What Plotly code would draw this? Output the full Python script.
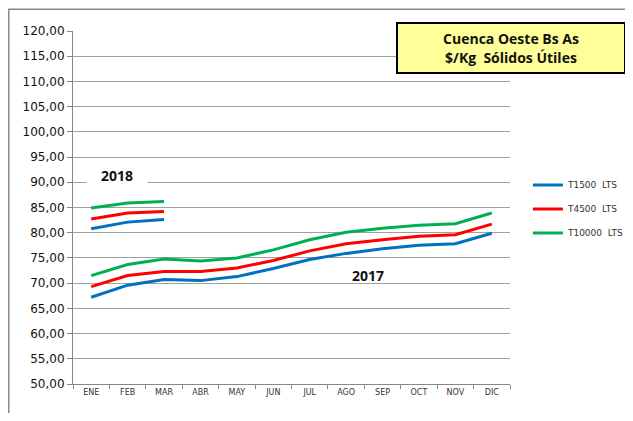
import plotly.graph_objects as go

months = ["ENE", "FEB", "MAR", "ABR", "MAY", "JUN", "JUL", "AGO", "SEP", "OCT", "NOV", "DIC"]
months_2018 = ["ENE", "FEB", "MAR"]

t1500_2017 = [67.2, 69.6, 70.7, 70.5, 71.3, 72.9, 74.7, 75.9, 76.8, 77.5, 77.8, 79.9]
t4500_2017 = [69.3, 71.5, 72.3, 72.3, 73.0, 74.5, 76.4, 77.8, 78.6, 79.3, 79.6, 81.7]
t10000_2017 = [71.5, 73.7, 74.8, 74.4, 75.0, 76.6, 78.6, 80.1, 80.9, 81.5, 81.8, 83.9]

t1500_2018 = [80.8, 82.1, 82.6]
t4500_2018 = [82.7, 83.9, 84.2]
t10000_2018 = [84.9, 85.9, 86.2]

series_names = ["T1500  LTS", "T4500  LTS", "T10000  LTS"]
colors = ["#0070C0", "#FF0000", "#00B050"]
y_ticks = [50, 55, 60, 65, 70, 75, 80, 85, 90, 95, 100, 105, 110, 115, 120]

fig = go.Figure()
for name, col, v17, v18 in zip(series_names, colors,
                               [t1500_2017, t4500_2017, t10000_2017],
                               [t1500_2018, t4500_2018, t10000_2018]):
    fig.add_trace(go.Scatter(x=months, y=v17, mode="lines", name=name,
                             line=dict(color=col, width=3), legendgroup=name))
    fig.add_trace(go.Scatter(x=months_2018, y=v18, mode="lines", name=name,
                             line=dict(color=col, width=3), legendgroup=name,
                             showlegend=False))

# page has an 8px body margin: keep the whole page inside the 633x421 window
fig.update_layout(
    width=617, height=405,
    margin=dict(l=65, r=115, t=23, b=29, autoexpand=False),
    paper_bgcolor="white", plot_bgcolor="white",
    separators=",.",
    font=dict(family="DejaVu Sans", color="#222"),
    showlegend=True,
    legend=dict(x=1.041, y=0.605, xanchor="left", yanchor="top",
                font=dict(size=9, family="DejaVu Sans", color="#333"),
                tracegroupgap=5, itemwidth=30, bgcolor="rgba(0,0,0,0)"),
    xaxis=dict(type="category", categoryorder="array", categoryarray=months,
               range=[-0.5, 11.5], tickson="boundaries", ticks="outside",
               ticklen=4, tickcolor="#888", showline=True, linecolor="#888",
               linewidth=1, showgrid=False, automargin=False,
               tickfont=dict(size=8, family="DejaVu Sans", color="#333")),
    yaxis=dict(range=[50, 120], tickvals=y_ticks, tickformat=".2f",
               ticks="outside", ticklen=5, tickcolor="#888",
               showline=True, linecolor="#888", linewidth=1,
               gridcolor="#A0A0A0", gridwidth=1, zeroline=False, automargin=False,
               tickfont=dict(size=12, family="DejaVu Sans", color="#111")),
)

fig.add_annotation(x=0.7, y=91.5, xref="x", yref="y", text="<b>2018</b>",
                   showarrow=False, bgcolor="white", width=60, height=20,
                   font=dict(size=14, family="Open Sans", color="#111"),
                   borderpad=0)
fig.add_annotation(x=7.6, y=71.6, xref="x", yref="y", text="<b>2017</b>",
                   showarrow=False,
                   font=dict(size=14, family="Open Sans", color="#111"))

fig.add_annotation(x=(511 - 73) / 437, y=(384.3 - 48) / 353.6, xref="paper", yref="paper",
                   xanchor="center", yanchor="middle",
                   text="<b>Cuenca Oeste Bs As<br>$/Kg  Sólidos Útiles</b>",
                   showarrow=False, bgcolor="#FFFF99", bordercolor="#000",
                   borderwidth=2, borderpad=0, width=226, height=48,
                   align="center",
                   font=dict(size=14, family="Open Sans", color="#111"))

fig.add_shape(type="rect", xref="paper", yref="paper",
              x0=(8.8 - 73) / 437, x1=(660 - 73) / 437,
              y0=(384.3 - 440) / 353.6, y1=(384.3 - 8.8) / 353.6,
              line=dict(color="#888", width=1.5), layer="below")

fig.write_html("out.html")
